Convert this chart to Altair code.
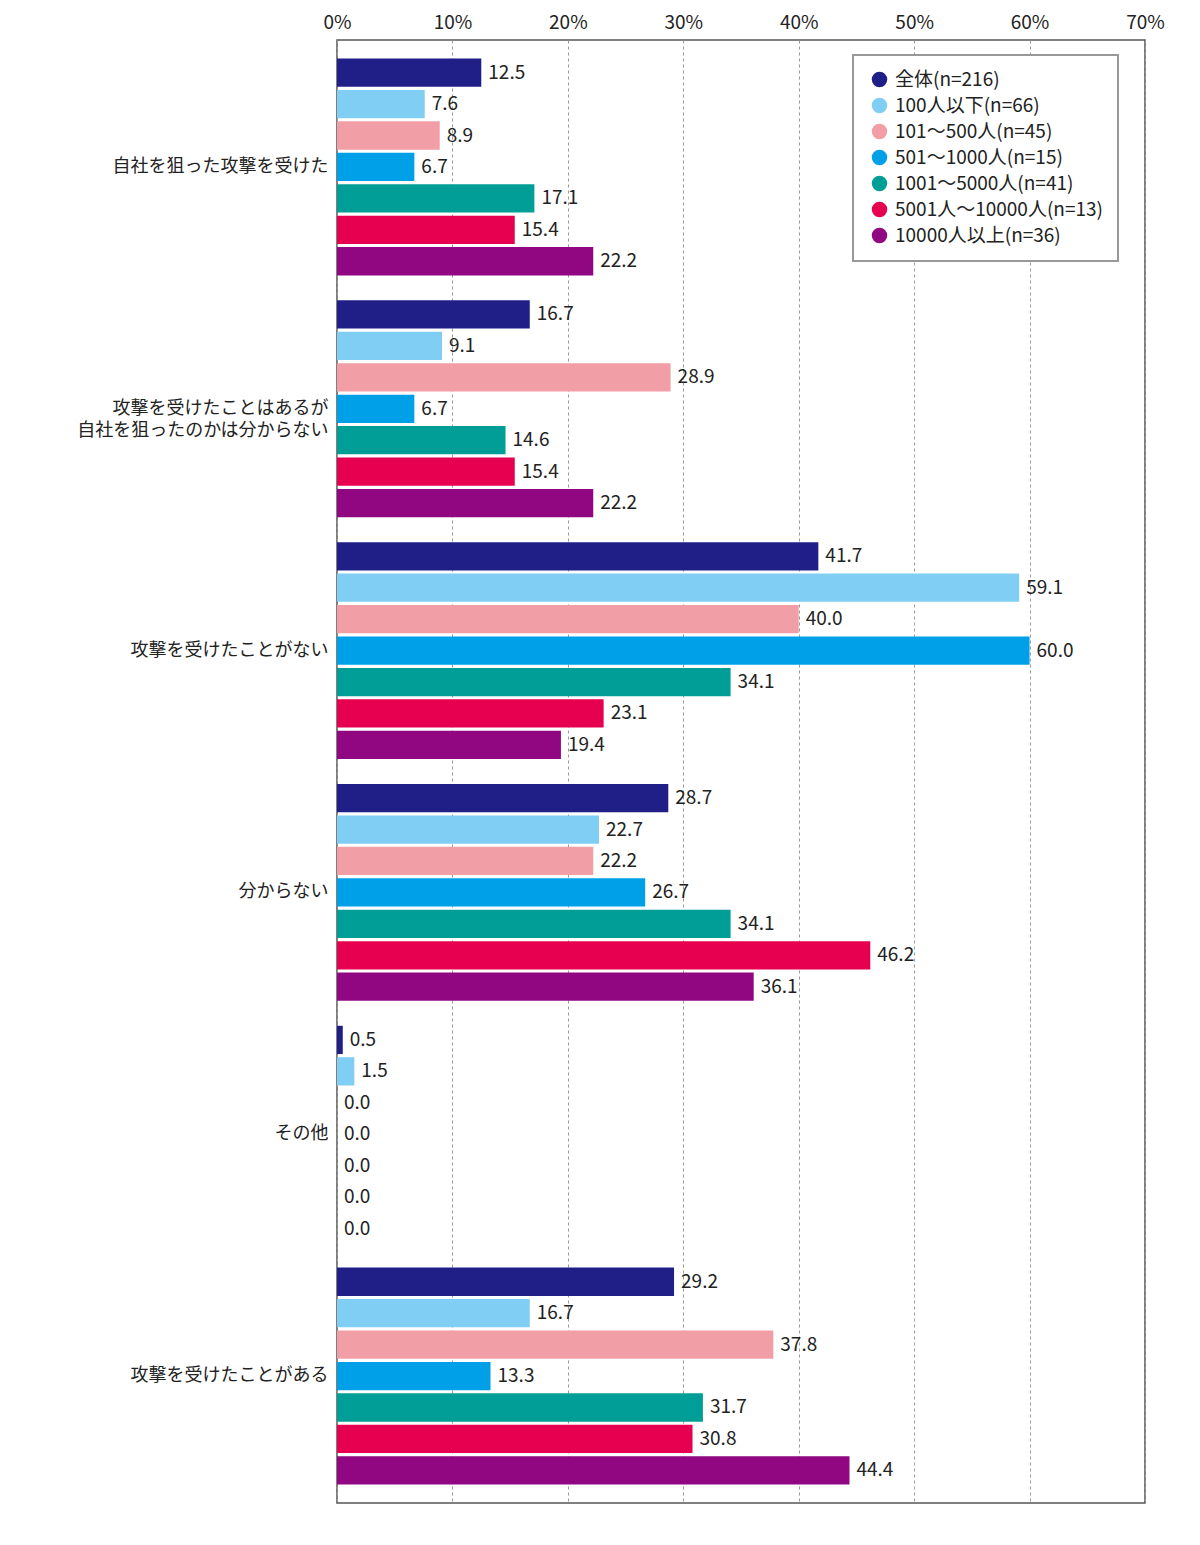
import altair as alt
import pandas as pd

categories = [
    "自社を狙った攻撃を受けた",
    "攻撃を受けたことはあるが\n自社を狙ったのかは分からない",
    "攻撃を受けたことがない",
    "分からない",
    "その他",
    "攻撃を受けたことがある",
]
groups = [
    "全体(n=216)",
    "100人以下(n=66)",
    "101～500人(n=45)",
    "501～1000人(n=15)",
    "1001～5000人(n=41)",
    "5001人～10000人(n=13)",
    "10000人以上(n=36)",
]
colors = ["#1f1f87", "#80cef3", "#f29ea7", "#00a0e9", "#009e96", "#e6004f", "#910782"]

values = {
    "全体(n=216)":            [12.5, 16.7, 41.7, 28.7, 0.5, 29.2],
    "100人以下(n=66)":        [7.6, 9.1, 59.1, 22.7, 1.5, 16.7],
    "101～500人(n=45)":       [8.9, 28.9, 40.0, 22.2, 0.0, 37.8],
    "501～1000人(n=15)":      [6.7, 6.7, 60.0, 26.7, 0.0, 13.3],
    "1001～5000人(n=41)":     [17.1, 14.6, 34.1, 34.1, 0.0, 31.7],
    "5001人～10000人(n=13)":  [15.4, 15.4, 23.1, 46.2, 0.0, 30.8],
    "10000人以上(n=36)":      [22.2, 22.2, 19.4, 36.1, 0.0, 44.4],
}

rows = []
for g in groups:
    for c, v in zip(categories, values[g]):
        rows.append({"category": c, "group": g, "value": v})
df = pd.DataFrame(rows)

FONT = "Noto Sans CJK JP"

y_enc = alt.Y(
    "category:N",
    sort=categories,
    scale=alt.Scale(paddingInner=0.09, paddingOuter=0.07),
    axis=alt.Axis(
        title=None,
        labelExpr="split(datum.label, '\\n')",
        labelFontSize=18,
        labelColor="#222222",
        labelFont=FONT,
        labelLineHeight=22,
        labelPadding=9,
        labelLimit=500,
        ticks=False,
        domain=False,
    ),
)
yoff_enc = alt.YOffset(
    "group:N",
    sort=groups,
    scale=alt.Scale(paddingInner=0.1, paddingOuter=0.05),
)
x_enc = alt.X(
    "value:Q",
    scale=alt.Scale(domain=[0, 70], nice=False),
    axis=alt.Axis(
        orient="top",
        title=None,
        values=[0, 10, 20, 30, 40, 50, 60, 70],
        labelExpr="datum.value + '%'",
        labelFontSize=19,
        labelColor="#222222",
        labelFont=FONT,
        labelPadding=8,
        ticks=False,
        domain=False,
        grid=True,
        gridColor="#999999",
        gridDash=[3, 3],
        gridWidth=1,
        labelFlush=False,
    ),
)

bars = alt.Chart(df).mark_bar().encode(
    x=x_enc,
    y=y_enc,
    yOffset=yoff_enc,
    color=alt.Color(
        "group:N",
        sort=groups,
        scale=alt.Scale(domain=groups, range=colors),
        legend=alt.Legend(
            title=None,
            orient="none",
            legendX=516,
            legendY=15,
            symbolType="circle",
            symbolSize=240,
            symbolStrokeWidth=0,
            labelFontSize=19,
            labelFont=FONT,
            labelColor="#222222",
            rowPadding=6,
            padding=15,
            strokeColor="#999999",
            fillColor="white",
            labelLimit=400,
            labelOffset=6,
            symbolOffset=2,
        ),
    ),
)

labels = alt.Chart(df).mark_text(
    align="left", baseline="middle", dx=7, fontSize=19, font=FONT, color="#222222"
).encode(
    x="value:Q",
    y=alt.Y("category:N", sort=categories),
    yOffset=alt.YOffset("group:N", sort=groups),
    text=alt.Text("value:Q", format=".1f"),
)

chart = (
    alt.layer(bars, labels)
    .properties(
        width=808,
        height=1463,
        background="white",
        autosize=alt.AutoSizeParams(type="none"),
        padding={"left": 329, "top": 32, "right": 40, "bottom": 30},
    )
    .configure_view(stroke="#555555", strokeWidth=1.5)
    .configure_legend(strokeWidth=2)
)

chart.save("out.html", embed_options={"renderer": "svg", "actions": False})
